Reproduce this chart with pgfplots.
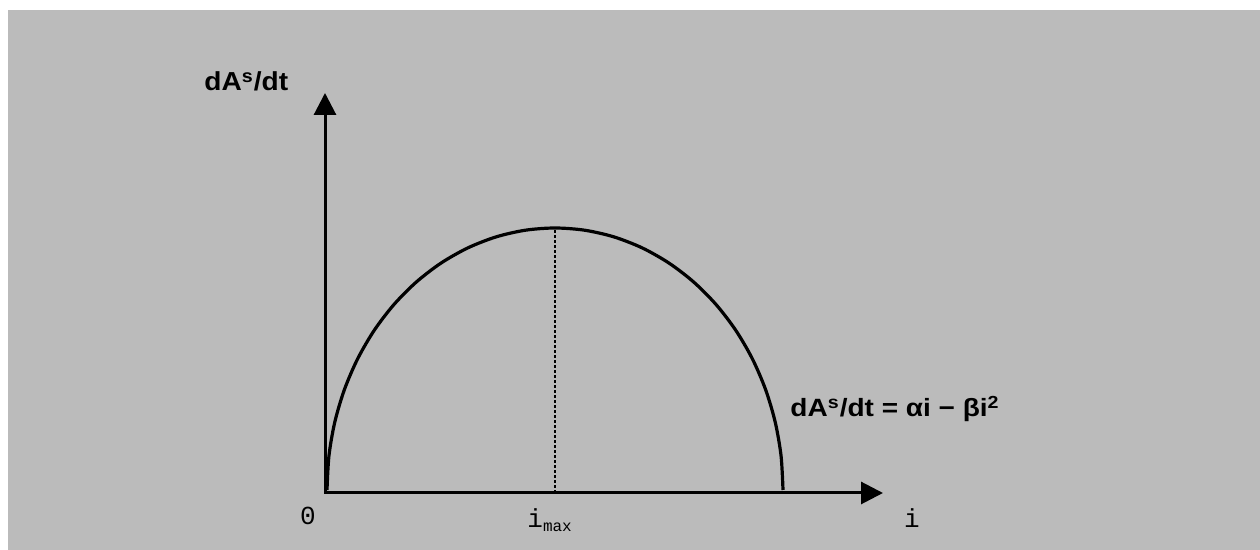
\documentclass[border=0pt]{standalone}
\usepackage{pgfplots}
\pgfplotsset{compat=1.18}
\usepackage{fontspec}
\setmainfont{Liberation Sans}
\newfontfamily\monofont{Liberation Mono}
\usetikzlibrary{arrows.meta}
\definecolor{panel}{RGB}{187,187,187}

% Growth rate of area against i: a dome that rises from the origin and falls back to zero
\pgfplotstableread{
i      rate
2.00     3.00
3.95    37.20
9.77    70.81
19.36  103.26
32.55  134.00
49.12  162.50
68.78  188.26
91.20  210.86
116.00 229.90
142.75 245.06
170.99 256.07
200.24 262.76
230.00 265.00
259.76 262.76
289.01 256.07
317.25 245.06
344.00 229.90
368.80 210.86
391.22 188.26
410.88 162.50
427.45 134.00
440.64 103.26
450.23  70.81
456.05  37.20
458.00   3.00
}\ratecurve

\begin{document}
\begin{tikzpicture}
\begin{axis}[
  scale only axis,
  width=630pt, height=275pt,
  xmin=-325, xmax=935, ymin=-57, ymax=493,
  axis lines=none, ticks=none,
  clip=false,
]
  % page extent and grey panel
  \path (axis cs:-325,-57) rectangle (axis cs:935,493);
  \fill[panel] (axis cs:-317,-57) rectangle (axis cs:935,483);

  % axes with arrow heads
  \addplot[black, line width=1.5pt, line join=miter,
    {Triangle[length=11pt,width=11pt]}-{Triangle[length=11pt,width=11pt]}]
    coordinates {(0,400) (0,0) (558,0)};

  % marker of the maximum
  \addplot[black, line width=0.6pt, dash pattern=on 1.5pt off 1pt]
    coordinates {(230,0) (230,265)};

  % the rate curve
  \addplot[black, line width=1.6pt, smooth] table[x=i, y=rate] {\ratecurve};

  % labels
  \node[anchor=base west, inner sep=0pt, xscale=1.08,
        font=\bfseries\fontsize{13}{15}\selectfont]
    at (axis cs:-121,402) {dA\textsuperscript{s}/dt};
  \node[anchor=base west, inner sep=0pt, xscale=1.12,
        font=\bfseries\fontsize{12.5}{15}\selectfont]
    at (axis cs:465,76) {dA\textsuperscript{s}/dt = αi − βi\textsuperscript{2}};
  \node[anchor=base, inner sep=0pt, font=\monofont\fontsize{13}{15}\selectfont]
    at (axis cs:-17,-32) {0};
  \node[anchor=base west, inner sep=0pt, font=\monofont\fontsize{13}{15}\selectfont]
    at (axis cs:202,-35) {i\textsubscript{\fontsize{8}{9}\selectfont max}};
  \node[anchor=base, inner sep=0pt, font=\monofont\fontsize{13}{15}\selectfont]
    at (axis cs:587,-35) {i};
\end{axis}
\end{tikzpicture}
\end{document}
